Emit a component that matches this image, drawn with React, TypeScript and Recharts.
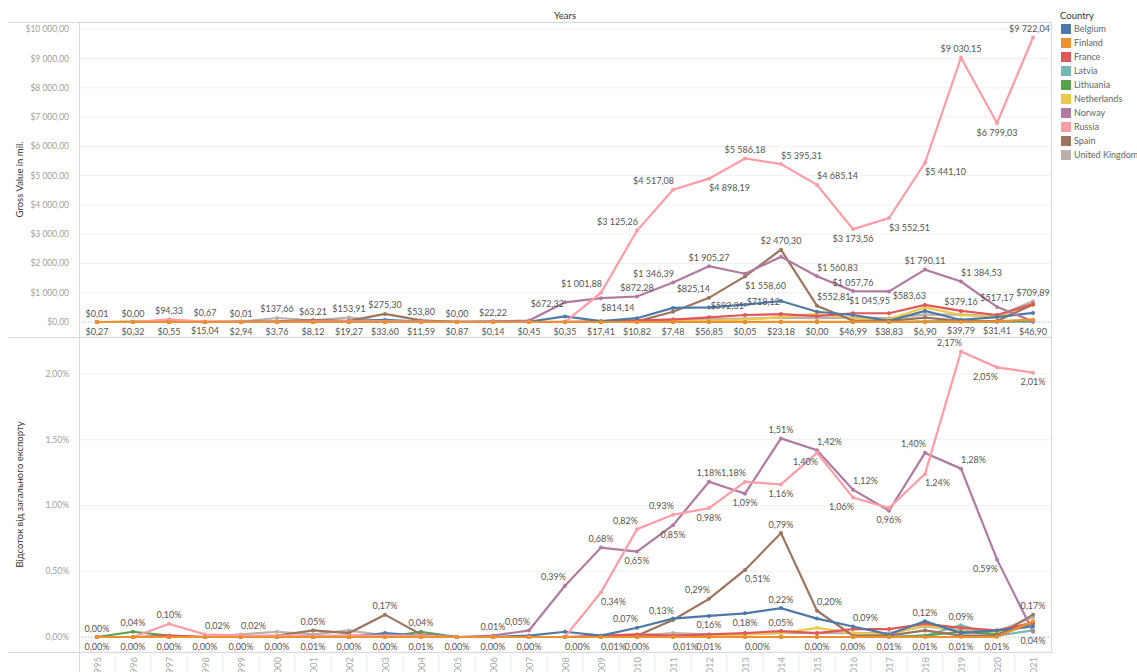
import { LineChart, Line, XAxis, YAxis, CartesianGrid, ReferenceLine, LabelList } from "recharts"

const years = [1995, 1996, 1997, 1998, 1999, 2000, 2001, 2002, 2003, 2004, 2005, 2006, 2007, 2008, 2009, 2010, 2011, 2012, 2013, 2014, 2015, 2016, 2017, 2018, 2019, 2020, 2021]

const countries = ["Belgium", "Finland", "France", "Latvia", "Lithuania", "Netherlands", "Norway", "Russia", "Spain", "United Kingdom"]
const colors = ["#4e79a7", "#f28e2b", "#e15759", "#76b7b2", "#59a14f", "#edc948", "#b07aa1", "#ff9da7", "#9c755f", "#bab0ac"]
// draw order (last on top)
const drawOrder = ["United Kingdom", "Netherlands", "Latvia", "Lithuania", "Spain", "France", "Belgium", "Norway", "Russia", "Finland"]

// Gross value, mil. $
const belgiumValue = [0, 0, 0, 0, 2.94, 3.76, 8.12, 19.27, 70, 11.59, 5, 5, 10, 190, 30, 130, 480, 500, 592.31, 718.12, 350, 240, 40, 380, 70, 170, 310]
const finlandValue = [0, 0, 0, 0, 0, 0, 0, 0, 0, 0, 0, 0, 0, 0, 0, 0, 0, 0, 0, 5, 5, 5, 5, 5, 10, 20, 80]
const franceValue = [0, 0, 25, 5, 5, 5, 5, 10, 10, 5, 5, 5, 5, 5, 20, 60, 80, 160, 240, 270, 200, 300, 300, 583.63, 379.16, 240, 615]
const latviaValue = [0.01, 0, 0, 0.67, 0.01, 0, 0, 0, 0, 0, 0, 0, 0, 0, 0, 0, 0, 0, 0.05, 0, 0, 0, 0, 0, 20, 5, 0]
const lithuaniaValue = [0, 10, 2, 0, 0, 0, 0, 0, 0, 20, 0, 0, 0, 0, 0, 0, 0, 0, 0, 0, 0, 0, 0, 10, 30, 20, 60]
const netherlandsValue = [0, 0, 0, 0, 0, 0, 0, 0, 0, 0, 0, 0, 0, 0, 0, 10, 20, 40, 80, 170, 280, 120, 90, 500, 240, 170, 580]
const norwayValue = [0, 0, 0, 0, 0, 0, 0, 0, 0, 0, 0, 22.22, 50, 672.32, 814.14, 872.28, 1346.39, 1905.27, 1650, 2230, 1560.83, 1057.76, 1045.95, 1790.11, 1384.53, 517.17, 20]
const russiaValue = [0.27, 0.32, 94.33, 15.04, 10, 8, 12, 19.27, 20, 11.59, 0.87, 0.14, 0.45, 0.35, 1001.88, 3125.26, 4517.08, 4898.19, 5586.18, 5395.31, 4685.14, 3173.56, 3552.51, 5441.1, 9030.15, 6799.03, 9722.04]
const spainValue = [0, 0, 0, 0, 5, 20, 63.21, 40, 275.3, 53.8, 0, 0, 0, 0, 0, 20, 350, 825.14, 1558.6, 2470.3, 552.81, 46.99, 38.83, 150, 39.79, 31.41, 600]
const ukValue = [0, 0, 0, 0, 10, 137.66, 60, 153.91, 30, 10, 0, 0, 0, 0, 5, 20, 100, 90, 120, 150, 130, 150, 130, 250, 250, 200, 709.89]

// Share of total export, %
const belgiumShare = [0, 0, 0, 0, 0, 0, 0.01, 0, 0.03, 0.01, 0, 0, 0.01, 0.04, 0.01, 0.07, 0.14, 0.16, 0.18, 0.22, 0.14, 0.08, 0.02, 0.12, 0.03, 0.05, 0.08]
const finlandShare = [0, 0, 0, 0, 0, 0, 0, 0, 0, 0, 0, 0, 0, 0, 0, 0, 0, 0, 0, 0, 0, 0, 0, 0, 0, 0, 0.12]
const franceShare = [0, 0, 0.01, 0, 0, 0, 0, 0.01, 0.01, 0, 0, 0, 0, 0, 0.01, 0.02, 0.01, 0.02, 0.03, 0.045, 0.03, 0.06, 0.06, 0.1, 0.07, 0.05, 0.11]
const latviaShare = [0, 0, 0, 0, 0, 0, 0, 0, 0, 0, 0, 0, 0, 0, 0, 0, 0, 0, 0, 0, 0, 0, 0, 0.01, 0.09, 0.01, 0.05]
const lithuaniaShare = [0, 0.04, 0.01, 0, 0, 0, 0, 0, 0, 0.04, 0, 0, 0, 0, 0, 0, 0, 0, 0, 0, 0, 0, 0, 0.01, 0.04, 0.02, 0.1]
const netherlandsShare = [0, 0, 0, 0, 0, 0, 0, 0, 0, 0, 0, 0, 0, 0, 0, 0, 0, 0.01, 0.02, 0.03, 0.07, 0.03, 0.02, 0.09, 0.04, 0.04, 0.1]
const norwayShare = [0, 0, 0, 0, 0, 0, 0, 0, 0, 0, 0, 0.01, 0.05, 0.39, 0.68, 0.65, 0.85, 1.18, 1.09, 1.51, 1.42, 1.12, 0.96, 1.4, 1.28, 0.59, 0.04]
const russiaShare = [0, 0, 0.1, 0.02, 0.01, 0.01, 0.01, 0.01, 0.01, 0.01, 0, 0, 0, 0, 0.34, 0.82, 0.93, 0.98, 1.18, 1.16, 1.4, 1.06, 0.98, 1.24, 2.17, 2.05, 2.01]
const spainShare = [0, 0, 0, 0, 0, 0.01, 0.05, 0.03, 0.17, 0.02, 0, 0, 0, 0, 0, 0.01, 0.13, 0.29, 0.51, 0.79, 0.2, 0.01, 0.01, 0.05, 0.01, 0.01, 0.17]
const ukShare = [0, 0, 0, 0, 0.02, 0.04, 0.02, 0.05, 0.01, 0.01, 0, 0, 0, 0, 0, 0.01, 0.03, 0.02, 0.02, 0.03, 0.03, 0.03, 0.03, 0.08, 0.05, 0.04, 0.15]

const valueTicks = [0, 1000, 2000, 3000, 4000, 5000, 6000, 7000, 8000, 9000, 10000]
const shareTicks = [0, 0.5, 1, 1.5, 2]

// visible mark labels: [country, year, text, placement]
const valueLabels: [string, number, string, string][] = [
  ["Latvia", 1995, "$0,01", "t"], ["Latvia", 1996, "$0,00", "t"], ["Russia", 1997, "$94,33", "t"],
  ["Latvia", 1998, "$0,67", "t"], ["Latvia", 1999, "$0,01", "t"], ["United Kingdom", 2000, "$137,66", "t"],
  ["Spain", 2001, "$63,21", "t"], ["United Kingdom", 2002, "$153,91", "t"], ["Spain", 2003, "$275,30", "t"],
  ["Spain", 2004, "$53,80", "t"], ["Latvia", 2005, "$0,00", "t"], ["Norway", 2006, "$22,22", "t"],
  ["Latvia", 1995, "$0,27", "b"], ["Latvia", 1996, "$0,32", "b"], ["Latvia", 1997, "$0,55", "b"],
  ["Latvia", 1998, "$15,04", "b"], ["Latvia", 1999, "$2,94", "b"], ["Latvia", 2000, "$3,76", "b"],
  ["Latvia", 2001, "$8,12", "b"], ["Latvia", 2002, "$19,27", "b"], ["Latvia", 2003, "$33,60", "b"],
  ["Latvia", 2004, "$11,59", "b"], ["Latvia", 2005, "$0,87", "b"], ["Latvia", 2006, "$0,14", "b"],
  ["Latvia", 2007, "$0,45", "b"], ["Latvia", 2008, "$0,35", "b"], ["Latvia", 2009, "$17,41", "b"],
  ["Latvia", 2010, "$10,82", "b"], ["Latvia", 2011, "$7,48", "b"], ["Latvia", 2012, "$56,85", "b"],
  ["Latvia", 2013, "$0,05", "b"], ["Latvia", 2014, "$23,18", "b"], ["Latvia", 2015, "$0,00", "b"],
  ["Latvia", 2016, "$46,99", "b"], ["Latvia", 2017, "$38,83", "b"], ["Latvia", 2018, "$6,90", "b"],
  ["Latvia", 2019, "$39,79", "b"], ["Latvia", 2020, "$31,41", "b"], ["Latvia", 2021, "$46,90", "b"],
  ["Norway", 2008, "$672,32", "l"], ["Russia", 2009, "$1 001,88", "tl"], ["Norway", 2009, "$814,14", "br"],
  ["Norway", 2010, "$872,28", "t"], ["Russia", 2010, "$3 125,26", "tl"], ["Russia", 2011, "$4 517,08", "tl"],
  ["Norway", 2011, "$1 346,39", "tl"], ["Russia", 2012, "$4 898,19", "br"], ["Norway", 2012, "$1 905,27", "t"],
  ["Spain", 2012, "$825,14", "tl"], ["Belgium", 2013, "$592,31", "l"], ["Russia", 2013, "$5 586,18", "t"],
  ["Spain", 2013, "$1 558,60", "br"], ["Belgium", 2014, "$718,12", "l"], ["Spain", 2014, "$2 470,30", "t"],
  ["Russia", 2014, "$5 395,31", "tr"], ["Russia", 2015, "$4 685,14", "tr"], ["Norway", 2015, "$1 560,83", "tr"],
  ["Spain", 2015, "$552,81", "tr"], ["Russia", 2016, "$3 173,56", "b"], ["Norway", 2016, "$1 057,76", "t"],
  ["Russia", 2017, "$3 552,51", "br"], ["Norway", 2017, "$1 045,95", "bl"], ["Russia", 2018, "$5 441,10", "br"],
  ["Norway", 2018, "$1 790,11", "t"], ["France", 2018, "$583,63", "tl"], ["Russia", 2019, "$9 030,15", "t"],
  ["Norway", 2019, "$1 384,53", "tr"], ["France", 2019, "$379,16", "t"], ["Russia", 2020, "$6 799,03", "b"],
  ["Norway", 2020, "$517,17", "t"], ["Russia", 2021, "$9 722,04", "te"], ["United Kingdom", 2021, "$709,89", "t"],
]

const shareLabels: [string, number, string, string][] = [
  ["Finland", 1995, "0,00%", "t"], ["Lithuania", 1996, "0,04%", "t"], ["Russia", 1997, "0,10%", "t"],
  ["Russia", 1998, "0,02%", "tr"], ["United Kingdom", 1999, "0,02%", "tr"], ["Spain", 2001, "0,05%", "t"],
  ["Spain", 2003, "0,17%", "t"], ["Lithuania", 2004, "0,04%", "t"], ["Norway", 2006, "0,01%", "t"],
  ["Norway", 2007, "0,05%", "tl"], ["Norway", 2008, "0,39%", "tl"],
  ["Finland", 1995, "0,00%", "b"], ["Finland", 1996, "0,00%", "b"], ["Finland", 1997, "0,00%", "b"],
  ["Finland", 1998, "0,00%", "b"], ["Finland", 1999, "0,00%", "b"], ["Finland", 2000, "0,00%", "b"],
  ["Finland", 2001, "0,01%", "b"], ["Finland", 2002, "0,00%", "b"], ["Finland", 2003, "0,00%", "b"],
  ["Finland", 2004, "0,01%", "b"], ["Finland", 2005, "0,00%", "b"], ["Finland", 2006, "0,00%", "b"],
  ["Finland", 2007, "0,00%", "b"], ["Finland", 2008, "0,00%", "br"], ["Finland", 2009, "0,01%", "br"],
  ["Finland", 2010, "0,00%", "b"], ["Finland", 2011, "0,01%", "br"], ["Finland", 2012, "0,01%", "b"],
  ["Finland", 2013, "0,00%", "br"], ["Finland", 2015, "0,00%", "b"], ["Finland", 2016, "0,00%", "b"],
  ["Finland", 2017, "0,01%", "b"], ["Finland", 2018, "0,01%", "b"], ["Finland", 2019, "0,01%", "b"],
  ["Finland", 2020, "0,01%", "b"],
  ["Norway", 2009, "0,68%", "t"], ["Russia", 2009, "0,34%", "br"], ["Russia", 2010, "0,82%", "tl"],
  ["Norway", 2010, "0,65%", "b"], ["Belgium", 2010, "0,07%", "tl"], ["Russia", 2011, "0,93%", "tl"],
  ["Norway", 2011, "0,85%", "b"], ["Spain", 2011, "0,13%", "tl"], ["Norway", 2012, "1,18%", "t"],
  ["Russia", 2012, "0,98%", "b"], ["Spain", 2012, "0,29%", "tl"], ["Belgium", 2012, "0,16%", "b"],
  ["Russia", 2013, "1,18%", "tl"], ["Norway", 2013, "1,09%", "b"], ["Spain", 2013, "0,51%", "br"],
  ["Belgium", 2013, "0,18%", "b"], ["Norway", 2014, "1,51%", "t"], ["Russia", 2014, "1,16%", "b"],
  ["Spain", 2014, "0,79%", "t"], ["Belgium", 2014, "0,22%", "t"], ["France", 2014, "0,05%", "t"],
  ["Norway", 2015, "1,42%", "tr"], ["Russia", 2015, "1,40%", "bl"], ["Spain", 2015, "0,20%", "tr"],
  ["Norway", 2016, "1,12%", "tr"], ["Russia", 2016, "1,06%", "bl"], ["Belgium", 2016, "0,09%", "tr"],
  ["Norway", 2017, "0,96%", "b"], ["Norway", 2018, "1,40%", "tl"], ["Russia", 2018, "1,24%", "br"],
  ["Belgium", 2018, "0,12%", "t"], ["Russia", 2019, "2,17%", "tl"], ["Norway", 2019, "1,28%", "tr"],
  ["Latvia", 2019, "0,09%", "t"], ["Russia", 2020, "2,05%", "bl"], ["Norway", 2020, "0,59%", "bl"],
  ["Russia", 2021, "2,01%", "b"], ["Spain", 2021, "0,17%", "t"], ["Norway", 2021, "0,04%", "b"],
]

const valueSeries: Record<string, number[]> = {
  Belgium: belgiumValue, Finland: finlandValue, France: franceValue, Latvia: latviaValue, Lithuania: lithuaniaValue,
  Netherlands: netherlandsValue, Norway: norwayValue, Russia: russiaValue, Spain: spainValue, "United Kingdom": ukValue,
}
const shareSeries: Record<string, number[]> = {
  Belgium: belgiumShare, Finland: finlandShare, France: franceShare, Latvia: latviaShare, Lithuania: lithuaniaShare,
  Netherlands: netherlandsShare, Norway: norwayShare, Russia: russiaShare, Spain: spainShare, "United Kingdom": ukShare,
}

const valueRows = years.map((year, i) => {
  const row: any = { year }
  countries.forEach((c) => (row[c] = valueSeries[c][i]))
  return row
})
const shareRows = years.map((year, i) => {
  const row: any = { year }
  countries.forEach((c) => (row[c] = shareSeries[c][i]))
  return row
})

const FONT = "Lato, 'Open Sans', sans-serif"
const LINE_COLOR = "#d9d9d9"

const POS: Record<string, { dx: number; dy: number; anchor: string }> = {
  t: { dx: 0, dy: -9, anchor: "middle" },
  te: { dx: 17, dy: -9, anchor: "end" },
  b: { dx: 0, dy: 9, anchor: "middle" },
  tl: { dx: 1, dy: -9, anchor: "end" },
  tr: { dx: 0, dy: -9, anchor: "start" },
  bl: { dx: 1, dy: 9, anchor: "end" },
  br: { dx: 0, dy: 9, anchor: "start" },
  l: { dx: -1, dy: 1, anchor: "end" },
}

function makeLabel(country: string, labels: [string, number, string, string][]) {
  return (props: any) => {
    const x = props.x ?? props.viewBox?.x
    const y = props.y ?? props.viewBox?.y
    const year = years[props.index]
    const items = labels.filter((l) => l[0] === country && l[1] === year)
    if (!items.length || x == null || y == null) return null
    return (
      <g>
        {items.map((l, k) => {
          const p = POS[l[3]]
          return (
            <text key={k} x={x + p.dx} y={y + p.dy} textAnchor={p.anchor as any} dominantBaseline="central"
              fontSize={9} fill="#555" fontFamily={FONT}>
              {l[2]}
            </text>
          )
        })}
      </g>
    )
  }
}

const fmtMoney = (v: number) => {
  const s = v.toFixed(2).split(".")
  const int = s[0].replace(/\B(?=(\d{3})+(?!\d))/g, " ")
  return `$${int},${s[1]}`
}
const fmtPct = (v: number) => `${v.toFixed(2).replace(".", ",")}%`

function YearTick(props: any) {
  const { x, y, payload } = props
  return (
    <g>
      {payload.value < 2021 && <line x1={x + 18} x2={x + 18} y1={y - 4} y2={y + 20} stroke="#ececec" />}
      <text transform={`translate(${x},${y + 1}) rotate(-90)`} textAnchor="end" dominantBaseline="central"
        fontSize={9.5} fill="#aaa" fontFamily={FONT}>
        {payload.value}
      </text>
    </g>
  )
}

function renderLines(labels: [string, number, string, string][]) {
  return drawOrder.map((c) => {
    const color = colors[countries.indexOf(c)]
    return (
      <Line key={c} type="linear" dataKey={c} stroke={color} strokeWidth={2.2}
        dot={{ r: 2, fill: color, stroke: color, strokeWidth: 0 }} activeDot={false} isAnimationActive={false}>
        <LabelList dataKey={c} content={makeLabel(c, labels)} />
      </Line>
    )
  })
}

const hLine = (top: number, left: number, width: number) => (
  <div style={{ position: "absolute", top, left, width, height: 1, background: LINE_COLOR }} />
)
const vLine = (left: number, top: number, height: number) => (
  <div style={{ position: "absolute", top, left, width: 1, height, background: LINE_COLOR }} />
)

export default function App() {
  return (
    <div style={{ position: "absolute", left: 0, top: 0, width: 1137, height: 672, overflow: "hidden", background: "#fff", fontFamily: FONT }}>
      <div style={{ position: "absolute", top: 10, left: 465, width: 200, textAlign: "center", fontSize: 9.5, color: "#333" }}>Years</div>

      <div style={{ position: "absolute", top: 0, left: 0 }}>
        <LineChart width={1060} height={337} data={valueRows} margin={{ top: 22, right: 9, bottom: 0, left: 0 }}>
          <CartesianGrid vertical={false} stroke="#f0f0f0" />
          <XAxis dataKey="year" type="number" domain={[1994.5, 2021.5]} ticks={years} hide />
          <YAxis type="number" domain={[-512, 10250]} ticks={valueTicks} width={79} allowDataOverflow
            tickFormatter={fmtMoney} axisLine={false} tickLine={false} tickMargin={4}
            tick={{ fontSize: 8.5, fill: "#a0a0a0", fontFamily: FONT }}
            label={{ value: "Gross Value in mil.", angle: -90, position: "insideLeft", offset: 20, style: { fontSize: 9.5, fill: "#333", fontFamily: FONT, textAnchor: "middle" } }} />
          <ReferenceLine y={0} stroke="#c4c4c4" strokeDasharray="1 2" />
          {renderLines(valueLabels)}
        </LineChart>
      </div>

      <div style={{ position: "absolute", top: 337, left: 0 }}>
        <LineChart width={1060} height={335} data={shareRows} margin={{ top: 0, right: 9, bottom: 0, left: 0 }}>
          <CartesianGrid vertical={false} stroke="#f0f0f0" />
          <XAxis dataKey="year" type="number" domain={[1994.5, 2021.5]} ticks={years} height={20}
            axisLine={false} tickLine={false} tickSize={0} tickMargin={4} tick={<YearTick />} interval={0} />
          <YAxis type="number" domain={[-0.114, 2.281]} ticks={shareTicks} width={79} allowDataOverflow
            tickFormatter={fmtPct} axisLine={false} tickLine={false} tickMargin={4}
            tick={{ fontSize: 8.5, fill: "#a0a0a0", fontFamily: FONT }}
            label={{ value: "Відсоток від загального експорту", angle: -90, position: "insideLeft", offset: 20, style: { fontSize: 9.5, fill: "#333", fontFamily: FONT, textAnchor: "middle" } }} />
          <ReferenceLine y={0} stroke="#c4c4c4" strokeDasharray="1 2" />
          {renderLines(shareLabels)}
        </LineChart>
      </div>

      {hLine(22, 8, 1044)}
      {hLine(337, 8, 1044)}
      {hLine(652, 8, 1044)}
      {vLine(79, 22, 650)}
      {vLine(1051, 22, 631)}

      <div style={{ position: "absolute", top: 10, left: 1060, fontSize: 9.5, color: "#333" }}>Country</div>
      {countries.map((c, i) => (
        <div key={c} style={{ position: "absolute", top: 23 + i * 14, left: 1061, display: "flex", alignItems: "center", height: 11 }}>
          <div style={{ width: 10, height: 10, background: colors[i], marginRight: 3 }} />
          <span style={{ fontSize: 9, color: "#666", whiteSpace: "nowrap" }}>{c}</span>
        </div>
      ))}
    </div>
  )
}
